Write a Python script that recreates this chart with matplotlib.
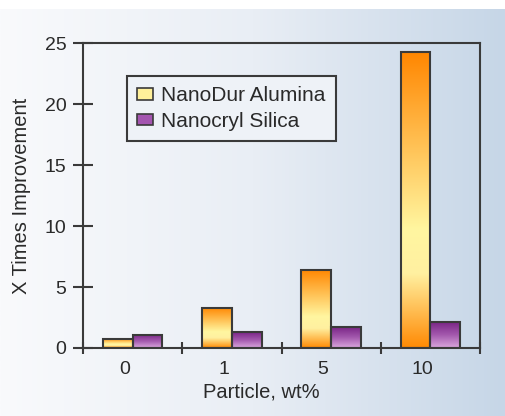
import numpy as np
import matplotlib.pyplot as plt
import matplotlib.transforms as mtransforms
from matplotlib.colors import LinearSegmentedColormap
from matplotlib.patches import Patch

plt.rcParams['font.family'] = ['Liberation Sans', 'DejaVu Sans']

# data
categories = ['0', '1', '5', '10']
alumina = [0.75, 3.3, 6.4, 24.3]
silica = [1.1, 1.3, 1.7, 2.1]
series_names = ['NanoDur Alumina', 'Nanocryl Silica']

txt = '#2a2a2a'
edge = '#3a3a3a'

fig = plt.figure(figsize=(5.06, 4.16), dpi=100)

# background gradient (white strip on top)
bg = fig.add_axes([0, 0, 1, 1 - 9 / 416], zorder=-5)
grad = np.linspace(0, 1, 256).reshape(1, -1)
bg_cmap = LinearSegmentedColormap.from_list('bg', ['#f9fafc', '#e9eef5', '#c6d6e7'])
bg.imshow(grad, cmap=bg_cmap, aspect='auto', extent=[0, 1, 0, 1])
bg.set_axis_off()

ax = fig.add_axes([83 / 506, 1 - 348 / 416, 397 / 506, 305 / 416])
ax.patch.set_alpha(0)

x = np.arange(len(categories))
w = 0.3
bars_a = ax.bar(x - w / 2, alumina, w, facecolor='none', edgecolor=edge, linewidth=1.5, zorder=3)
bars_s = ax.bar(x + w / 2, silica, w, facecolor='none', edgecolor=edge, linewidth=1.5, zorder=3)

cmap_a = LinearSegmentedColormap.from_list('al', [(0, '#ff8600'), (0.6, '#fff6a0'), (0.75, '#fff0a0'), (1, '#ff8a04')])
cmap_s = LinearSegmentedColormap.from_list('si', ['#7a2586', '#a45aae', '#dba8de'])

vgrad = np.linspace(0, 1, 256).reshape(-1, 1)
for bars, cm in [(bars_a, cmap_a), (bars_s, cmap_s)]:
    for b in bars:
        im = ax.imshow(vgrad, cmap=cm, aspect='auto', zorder=2,
                       extent=[b.get_x(), b.get_x() + b.get_width(), 0, b.get_height()],
                       origin='upper')
        im.set_clip_path(b)

ax.set_xlim(-0.5, len(categories) - 0.5)
ax.set_ylim(0, 25)
ax.set_yticks([0, 5, 10, 15, 20, 25])
ax.set_xticks(x)
ax.set_xticklabels(categories)
ax.set_xticks(np.arange(len(categories) + 1) - 0.5, minor=True)
ax.tick_params(axis='x', which='major', length=0, pad=9, labelsize=14, labelcolor=txt)
ax.tick_params(axis='x', which='minor', direction='inout', length=8, width=1.5, color=edge)
ax.tick_params(axis='y', direction='inout', length=14, width=1.5, color=edge, pad=5,
               labelsize=14, labelcolor=txt)

# labels in the original sit a bit left of the group centres
off = mtransforms.ScaledTranslation(-8 / 100, 0, fig.dpi_scale_trans)
for lab in ax.get_xticklabels():
    lab.set_transform(lab.get_transform() + off)

for s in ax.spines.values():
    s.set_color(edge)
    s.set_linewidth(1.5)

ax.set_xlabel('Particle, wt%', fontsize=14.5, color=txt)
ax.xaxis.set_label_coords(0.45, -0.113)
ax.set_ylabel('X Times Improvement', fontsize=14.5, color=txt)
ax.yaxis.set_label_coords(-0.13, 0.5)

handles = [Patch(facecolor='#fff09a', edgecolor=edge, linewidth=1.2),
           Patch(facecolor='#a455b0', edgecolor=edge, linewidth=1.2)]
leg = ax.legend(handles, series_names, loc='upper left', bbox_to_anchor=(0.111, 0.892),
                borderaxespad=0, fontsize=15, handlelength=0.75, handleheight=0.45,
                handletextpad=0.4, labelspacing=0.3, borderpad=0.5, fancybox=False,
                framealpha=1, facecolor='#eef2f7', edgecolor=edge)
leg.get_frame().set_linewidth(1.5)
for t in leg.get_texts():
    t.set_color(txt)

fig.savefig('out.png', dpi=100)
